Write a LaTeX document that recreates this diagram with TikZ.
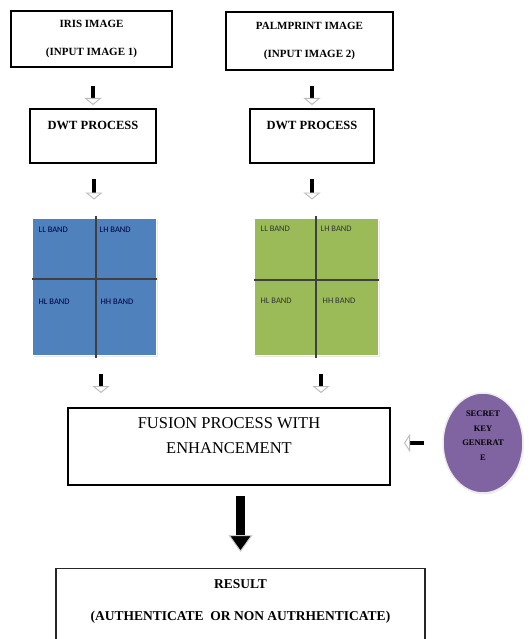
\documentclass[tikz,border=0pt]{standalone}
\usepackage{fontspec}
\setmainfont{Liberation Serif}
\newfontfamily\bandfont{Carlito}
\usepackage{tikz}
\usetikzlibrary{shapes}
\usetikzlibrary{shapes.geometric}
\usetikzlibrary{positioning}
\usetikzlibrary{arrows.meta}
\usetikzlibrary{shadows}
\definecolor{bandblue}{HTML}{4F81BD}
\definecolor{bandgreen}{HTML}{9BBB59}
\definecolor{keyviolet}{HTML}{8064A2}
\tikzset{
    inbox/.style = {rectangle, line width=2pt, draw=black, align=center, font=\bfseries\fontsize{11}{28}\selectfont},
    dwtbox/.style = {rectangle, line width=2pt, draw=black, align=center, minimum height=54pt, font=\bfseries\fontsize{12.5}{15}\selectfont},
    fusebox/.style = {rectangle, line width=2pt, draw=black, align=center, minimum width=322pt, minimum height=77pt, font=\fontsize{16.5}{25}\selectfont},
    resbox/.style = {rectangle, line width=1.3pt, draw=black!85, align=center, minimum width=369pt, inner ysep=11pt, font=\bfseries\fontsize{13.5}{16}\selectfont},
    bandsq/.style = {rectangle, draw=white, line width=1pt, minimum width=124pt, minimum height=137pt, drop shadow={shadow xshift=1.5pt, shadow yshift=-2pt, fill=gray!35}},
    bandline/.style = {line width=1.2pt, black!75},
    bandtxt/.style = {anchor=west, inner sep=0pt, font=\bandfont\fontsize{8.5}{10}\selectfont},
    keynode/.style = {ellipse, fill=keyviolet, draw=gray!15, line width=1.5pt, minimum width=80pt, minimum height=100pt, inner sep=0pt, align=center, font=\bfseries\fontsize{8.5}{14.5}\selectfont, drop shadow={shadow xshift=1pt, shadow yshift=-1.5pt, fill=gray!30}},
    edgen/.style = {draw=black, line width=4.5pt, -{Triangle[length=7pt, width=17pt, fill=white, color=gray!55, line width=0.9pt]}}, % small
    edgel/.style = {draw=black, line width=4pt, -{Triangle[length=6pt, width=18pt, fill=white, color=gray!55, line width=0.9pt]}}, % key
    edgeb/.style = {draw=black, line width=9pt, -{Triangle[length=17pt, width=24pt, fill=black, color=gray!40, line width=1pt]}} % result
}

\begin{document}
\begin{tikzpicture}[x=1pt, y=-1pt]
  \clip (0,0) rectangle (529,639);

  % inputs
  \node[inbox, minimum width=161pt, minimum height=56pt] (iris) at (91.5,39) {IRIS IMAGE\\(INPUT IMAGE 1)};
  \node[inbox, minimum width=167pt, minimum height=58pt] (palm) at (309.5,41) {PALMPRINT IMAGE\\(INPUT IMAGE 2)};

  \node[dwtbox, minimum width=126pt] (dwtA) at (93,136) {DWT PROCESS\\[7pt]\mbox{}};
  \node[dwtbox, minimum width=124pt] (dwtB) at (312,136) {DWT PROCESS\\[7pt]\mbox{}};

  % bands
  \node[bandsq, fill=bandblue] (bandA) at (94,286.5) {};
  \draw[bandline] ([yshift=7.5pt]bandA.west) -- ([yshift=7.5pt]bandA.east);
  \draw[bandline] ([xshift=2pt,yshift=2pt]bandA.north) -- ([xshift=2pt,yshift=-2pt]bandA.south);
  \node[bandtxt, text=blue!25!black] (llA) at ([xshift=7pt,yshift=-12pt]bandA.north west) {LL BAND};
  \node[bandtxt, text=blue!25!black] (lhA) at ([xshift=68pt,yshift=-12pt]bandA.north west) {LH BAND};
  \node[bandtxt, text=blue!25!black] (hlA) at ([xshift=7pt,yshift=-84pt]bandA.north west) {HL BAND};
  \node[bandtxt, text=blue!25!black] (hhA) at ([xshift=69pt,yshift=-84pt]bandA.north west) {HH BAND};

  \node[bandsq, fill=bandgreen] (bandB) at (316,286.5) {};
  \draw[bandline] ([yshift=6.5pt]bandB.west) -- ([yshift=6.5pt]bandB.east);
  \draw[bandline] ([yshift=2pt]bandB.north) -- ([yshift=-2pt]bandB.south);
  \node[bandtxt, text=black!80] (llB) at ([xshift=7pt,yshift=-11pt]bandB.north west) {LL BAND};
  \node[bandtxt, text=black!80] (lhB) at ([xshift=67pt,yshift=-11pt]bandB.north west) {LH BAND};
  \node[bandtxt, text=black!80] (hlB) at ([xshift=7pt,yshift=-83pt]bandB.north west) {HL BAND};
  \node[bandtxt, text=black!80] (hhB) at ([xshift=69pt,yshift=-83pt]bandB.north west) {HH BAND};

  \node[fusebox] (fusion) at (229,446.5) {FUSION PROCESS WITH\\ENHANCEMENT\\[-3pt]\mbox{}};
  \node[keynode] (key) at (483,443) {SECRET\\KEY\\GENERAT\\E\\\mbox{}};

  \node[resbox, anchor=north] (result) at (240.5,568) {RESULT\\[16pt](AUTHENTICATE~~OR NON AUTRHENTICATE)\\[12pt]\mbox{}};

  % arrows
  \draw[edgen, shorten <=18pt, shorten >=3pt] (dwtA.north |- iris.south) -- (dwtA.north);
  \draw[edgen, shorten <=15pt, shorten >=3pt] (dwtB.north |- palm.south) -- (dwtB.north);
  \draw[edgen, shorten <=15pt, shorten >=18pt] (bandA.north |- dwtA.south) -- (bandA.north);
  \draw[edgen, shorten <=15pt, shorten >=18pt] (dwtB.south) -- (dwtB.south |- bandB.north);
  \draw[edgen, shorten <=18pt, shorten >=14pt] ([xshift=7pt]bandA.south) -- ([xshift=7pt]bandA.south |- fusion.north);
  \draw[edgen, shorten <=18pt, shorten >=14pt] ([xshift=5pt]bandB.south) -- ([xshift=5pt]bandB.south |- fusion.north);
  \draw[edgel, shorten <=18pt, shorten >=13pt] (key.west) -- (key.west -| fusion.east);
  \draw[edgeb, shorten <=10pt, shorten >=16pt] (result.north |- fusion.south) -- (result.north);

\end{tikzpicture}
\end{document}
